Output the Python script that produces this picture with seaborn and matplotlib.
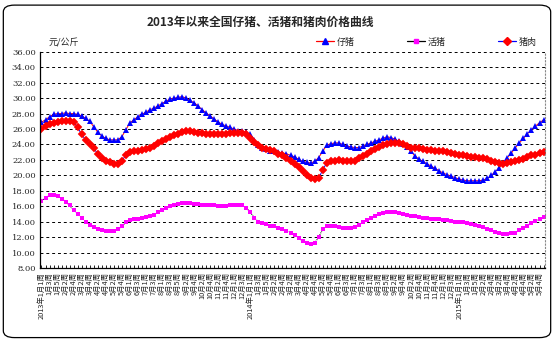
import matplotlib
matplotlib.use("Agg")
import matplotlib.pyplot as plt
import seaborn as sns
import pandas as pd
import numpy as np
from matplotlib.lines import Line2D
from matplotlib.patches import FancyBboxPatch

sns.set_theme(style="white")
plt.rcParams['font.family'] = ['Noto Sans CJK SC', 'DejaVu Sans']
plt.rcParams['axes.unicode_minus'] = False

# ---- data ----
piglet = [26.9, 27.2, 27.6, 27.9, 28.0, 28.0, 28.1, 28.0, 28.0, 27.9,
          27.7, 27.4, 27.0, 26.3, 25.6, 25.1, 24.8, 24.6, 24.6, 24.6,
          25.0, 25.9, 26.8, 27.2, 27.6, 27.9, 28.2, 28.5, 28.7, 29.0,
          29.3, 29.6, 29.9, 30.0, 30.1, 30.2, 30.0, 29.7, 29.4, 29.0,
          28.5, 28.1, 27.7, 27.3, 26.9, 26.6, 26.4, 26.2, 26.0, 25.8,
          25.7, 25.6, 25.3, 24.6, 23.9, 23.6, 23.4, 23.2, 23.1, 23.0,
          22.9, 22.8, 22.6, 22.4, 22.1, 21.8, 21.7, 21.6, 21.8, 22.3,
          23.1, 23.9, 24.1, 24.2, 24.2, 24.0, 23.8, 23.7, 23.6, 23.6,
          23.8, 24.0, 24.2, 24.4, 24.6, 24.8, 25.0, 24.9, 24.7, 24.4,
          24.1, 23.7, 23.1, 22.5, 22.1, 21.8, 21.5, 21.2, 20.9, 20.6,
          20.3, 20.1, 19.9, 19.7, 19.5, 19.4, 19.3, 19.3, 19.3, 19.3,
          19.4, 19.6, 20.0, 20.5, 21.0, 21.6, 22.3, 22.9, 23.6, 24.2,
          24.8, 25.4, 25.9, 26.4, 26.8, 27.2]

hog = [16.7, 17.1, 17.4, 17.5, 17.3, 17.0, 16.6, 16.1, 15.5, 15.0,
       14.5, 14.0, 13.6, 13.3, 13.0, 12.9, 12.8, 12.8, 12.8, 13.0,
       13.4, 13.9, 14.2, 14.3, 14.4, 14.5, 14.6, 14.7, 14.9, 15.2,
       15.5, 15.8, 16.0, 16.2, 16.3, 16.4, 16.4, 16.4, 16.3, 16.3,
       16.2, 16.2, 16.1, 16.1, 16.0, 16.0, 16.0, 16.1, 16.2, 16.2,
       16.1, 15.8, 15.2, 14.5, 14.0, 13.8, 13.7, 13.5, 13.4, 13.2,
       13.0, 12.8, 12.6, 12.3, 11.9, 11.5, 11.2, 11.1, 11.2, 12.0,
       13.0, 13.4, 13.5, 13.4, 13.3, 13.2, 13.2, 13.2, 13.3, 13.6,
       13.9, 14.2, 14.5, 14.8, 15.0, 15.1, 15.2, 15.2, 15.2, 15.1,
       15.0, 14.9, 14.8, 14.7, 14.6, 14.5, 14.5, 14.4, 14.3, 14.3,
       14.2, 14.2, 14.1, 14.0, 14.0, 13.9, 13.8, 13.7, 13.6, 13.5,
       13.3, 13.1, 12.9, 12.7, 12.6, 12.4, 12.4, 12.5, 12.6, 12.9,
       13.2, 13.5, 13.8, 14.1, 14.4, 14.6]

pork = [26.0, 26.4, 26.7, 26.8, 26.9, 27.0, 27.0, 27.0, 26.9, 26.2,
        25.3, 24.6, 24.0, 23.5, 22.8, 22.2, 21.9, 21.7, 21.5, 21.5,
        21.9, 22.6, 23.0, 23.1, 23.2, 23.3, 23.4, 23.6, 23.8, 24.2,
        24.5, 24.7, 25.0, 25.2, 25.4, 25.6, 25.7, 25.7, 25.6, 25.5,
        25.5, 25.4, 25.4, 25.3, 25.4, 25.4, 25.4, 25.5, 25.5, 25.5,
        25.5, 25.3, 24.9, 24.3, 23.9, 23.6, 23.4, 23.3, 23.1, 22.8,
        22.6, 22.3, 21.9, 21.5, 21.1, 20.6, 20.1, 19.7, 19.5, 19.6,
        20.7, 21.6, 21.8, 21.9, 22.0, 21.9, 21.9, 21.8, 21.8, 22.2,
        22.5, 22.8, 23.1, 23.4, 23.7, 23.9, 24.1, 24.2, 24.2, 24.2,
        24.0, 23.8, 23.6, 23.5, 23.5, 23.4, 23.3, 23.3, 23.2, 23.2,
        23.1, 23.0, 22.9, 22.8, 22.7, 22.6, 22.5, 22.4, 22.4, 22.3,
        22.2, 22.1, 21.9, 21.7, 21.6, 21.5, 21.6, 21.7, 21.8, 22.0,
        22.1, 22.4, 22.6, 22.7, 22.9, 23.0]

years = [2013, 2014, 2015]
weeks_per_month = {
    2013: [5, 4, 4, 4, 5, 4, 4, 5, 4, 4, 5, 4],
    2014: [5, 4, 4, 4, 5, 4, 4, 5, 4, 4, 5, 4],
    2015: [5, 4, 4, 4, 4, 1],
}
week_labels = []
for y in years:
    for m, n in enumerate(weeks_per_month[y], start=1):
        for w in range(1, n + 1):
            lab = f"{m}月{w}周"
            if m == 1 and w == 1:
                lab = f"{y}年" + lab
            week_labels.append(lab)
week_labels = week_labels[:len(piglet)]

series_names = ["仔猪", "活猪", "猪肉"]

# ---- figure ----
fig = plt.figure(figsize=(5.54, 3.41), dpi=100)
fig.patch.set_facecolor("white")
ax = fig.add_axes([0.072, 0.214, 0.912, 0.634])

idx = np.arange(len(piglet))
df = pd.DataFrame({"week": idx, "仔猪": piglet, "活猪": hog, "猪肉": pork})

sns.lineplot(data=df, x="week", y="活猪", ax=ax, color="black", linewidth=0.7,
             linestyle=(0, (1, 1)), marker="s", markersize=2.6,
             markerfacecolor="#ff00ff", markeredgecolor="#ff00ff", markeredgewidth=0)
sns.lineplot(data=df, x="week", y="仔猪", ax=ax, color="red", linewidth=0.7,
             marker="^", markersize=4.8,
             markerfacecolor="#0000ff", markeredgecolor="#0000ff", markeredgewidth=0)
sns.lineplot(data=df, x="week", y="猪肉", ax=ax, color="blue", linewidth=0.7,
             marker="D", markersize=3.6,
             markerfacecolor="#ff0000", markeredgecolor="#ff0000", markeredgewidth=0.3)

ax.set_xlim(-0.4, len(piglet) - 0.6)
ax.set_ylim(8, 36)
ax.set_yticks(np.arange(8, 37, 2))
ax.set_yticklabels([f"{v:.2f}" for v in np.arange(8, 37, 2)], fontsize=6,
                   family=['DejaVu Serif'])
ax.yaxis.grid(True, color="black", linestyle=(0, (3, 3)), linewidth=0.7)
ax.xaxis.grid(False)
ax.set_xticks(idx[::2])
ax.set_xticklabels(week_labels[::2], rotation=90, fontsize=5.3)
ax.set_xticks(idx, minor=True)
ax.tick_params(axis="x", which="both", direction="in", length=2.5, width=0.6,
               color="black", pad=3, bottom=True)
ax.tick_params(axis="y", length=0, pad=3)
ax.set_xlabel("")
ax.set_ylabel("")

for s in ["left", "bottom"]:
    ax.spines[s].set_color("black")
    ax.spines[s].set_linewidth(0.9)
ax.spines["top"].set_visible(False)
ax.spines["right"].set_color("#888888")
ax.spines["right"].set_linestyle((0, (1, 2)))
ax.spines["right"].set_linewidth(0.8)

fig.text(0.47, 0.935, "2013年以来全国仔猪、活猪和猪肉价格曲线", ha="center",
         va="center", fontsize=8.5, fontweight="bold")
fig.text(0.088, 0.875, "元/公斤", ha="left", va="center", fontsize=6.5,
         style="italic")

handles = [
    Line2D([], [], color="red", lw=0.9, marker="^", markersize=4.5,
           markerfacecolor="blue", markeredgecolor="blue"),
    Line2D([], [], color="black", lw=0.9, marker="s", markersize=2.6,
           markerfacecolor="#ff00ff", markeredgecolor="#ff00ff"),
    Line2D([], [], color="blue", lw=0.9, marker="D", markersize=3.6,
           markerfacecolor="red", markeredgecolor="red"),
]
fig.legend(handles, series_names, loc="center", bbox_to_anchor=(0.77, 0.877),
           ncol=3, frameon=False, fontsize=6.5, handlelength=2.0,
           handletextpad=0.3, columnspacing=5.8)

border = FancyBboxPatch((0.006, 0.01), 0.988, 0.975,
                        boxstyle="round,pad=0,rounding_size=0.02",
                        transform=fig.transFigure, fill=False,
                        edgecolor="black", linewidth=0.9)
fig.patches.append(border)

fig.savefig("out.png", dpi=100)
